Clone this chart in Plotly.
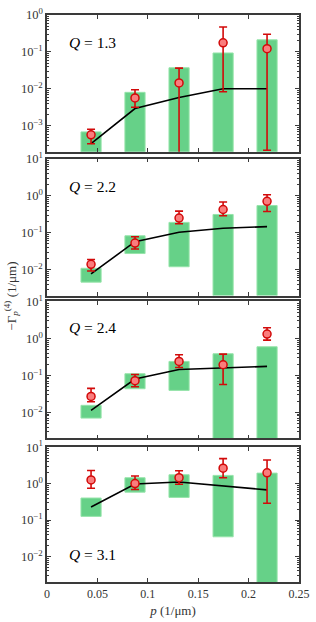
import plotly.graph_objects as go
from plotly.subplots import make_subplots

# ---------------- data ----------------
p = [0.0437, 0.0873, 0.131, 0.1747, 0.2183]
q_labels = ["1.3", "2.2", "2.4", "3.1"]

# green floating bars (low, high); 1e-5 = extends below the axis
bar_low_1 = [1e-5, 1e-5, 1e-5, 1e-5, 1e-5]
bar_high_1 = [6.9e-4, 8.1e-3, 0.0374, 0.094, 0.213]
bar_low_2 = [4.6e-3, 0.0273, 0.012, 1e-5, 1e-5]
bar_high_2 = [0.0109, 0.0824, 0.19, 0.311, 0.541]
bar_low_3 = [7.0e-3, 0.0436, 0.0393, 1e-5, 1e-5]
bar_high_3 = [0.0155, 0.111, 0.239, 0.385, 0.595]
bar_low_4 = [0.126, 0.583, 0.418, 0.0347, 1e-5]
bar_high_4 = [0.402, 1.45, 1.75, 1.68, 1.94]

# red markers with asymmetric error bars
val_1 = [5.75e-4, 5.7e-3, 0.0146, 0.177, 0.123]
hi_1 = [8.15e-4, 9.5e-3, 0.0366, 0.474, 0.302]
lo_1 = [3.3e-4, 3.2e-3, 1e-5, 8.4e-3, 2.2e-4]
val_2 = [0.0139, 0.0525, 0.249, 0.424, 0.706]
hi_2 = [0.0189, 0.0774, 0.382, 0.678, 1.06]
lo_2 = [9.2e-3, 0.0363, 0.175, 0.287, 0.374]
val_3 = [0.027, 0.0718, 0.239, 0.194, 1.31]
hi_3 = [0.0445, 0.106, 0.362, 0.377, 1.94]
lo_3 = [0.0194, 0.0494, 0.164, 0.057, 0.90]
val_4 = [1.26, 1.0, 1.45, 2.65, 1.98]
hi_4 = [2.29, 1.61, 2.25, 4.84, 4.45]
lo_4 = [0.748, 0.688, 0.96, 1.45, 0.288]

# black model line
line_1 = [3.3e-4, 2.96e-3, 5.9e-3, 0.0101, 0.0101]
line_2 = [7.66e-3, 0.057, 0.103, 0.132, 0.146]
line_3 = [0.0113, 0.0796, 0.145, 0.161, 0.175]
line_4 = [0.229, 0.98, 1.11, 0.88, 0.674]

y_tick_exps_1 = [-3, -2, -1, 0]
y_tick_exps_other = [-2, -1, 0, 1]

# ---------------- styling ----------------
BAR_C = "rgb(102,209,136)"
BAR_EDGE = "rgb(150,228,170)"
RED = "rgb(210,10,10)"
MFILL = "rgb(250,125,125)"
AXC = "#3a3a3a"
FONT = "Liberation Serif, DejaVu Serif, serif"

panels = [
    (bar_low_1, bar_high_1, val_1, hi_1, lo_1, line_1),
    (bar_low_2, bar_high_2, val_2, hi_2, lo_2, line_2),
    (bar_low_3, bar_high_3, val_3, hi_3, lo_3, line_3),
    (bar_low_4, bar_high_4, val_4, hi_4, lo_4, line_4),
]

fig = make_subplots(rows=4, cols=1, shared_xaxes=True, vertical_spacing=0.01)

for i, (bl, bh, v, hi, lo, ln) in enumerate(panels, start=1):
    fig.add_trace(go.Bar(
        x=p, y=[h - l for h, l in zip(bh, bl)], base=bl, width=0.02,
        marker=dict(color=BAR_C, line=dict(color=BAR_EDGE, width=1)),
        showlegend=False, hoverinfo="skip"), row=i, col=1)
    fig.add_trace(go.Scatter(
        x=p, y=ln, mode="lines", line=dict(color="black", width=1.6),
        showlegend=False), row=i, col=1)
    fig.add_trace(go.Scatter(
        x=p, y=v, mode="markers",
        marker=dict(symbol="circle", size=8, color=MFILL, line=dict(color=RED, width=1.5)),
        error_y=dict(type="data", symmetric=False,
                     array=[h - x for h, x in zip(hi, v)],
                     arrayminus=[x - l for x, l in zip(v, lo)],
                     color=RED, thickness=1.6, width=4),
        showlegend=False), row=i, col=1)

domains = [[0.7587, 1.0], [0.5052, 0.7465], [0.2535, 0.4948], [0.0, 0.2378]]
ranges = [[-3.7, 0], [-2.7, 1], [-2.7, 1], [-2.7, 1]]

for i in range(1, 5):
    exps = y_tick_exps_1 if i == 1 else y_tick_exps_other
    fig.update_yaxes(
        type="log", range=ranges[i - 1], domain=domains[i - 1],
        tickmode="array", tickvals=[10 ** e for e in exps],
        ticktext=["10<sup>%s</sup>" % (str(e).replace("-", "−")) for e in exps],
        ticks="inside", ticklen=4, tickwidth=1, tickcolor=AXC,
        minor=dict(ticks="inside", ticklen=2, tickcolor=AXC, dtick="D1", showgrid=False),
        showline=True, linecolor=AXC, linewidth=1.5, mirror="allticks",
        showgrid=False, zeroline=False,
        tickfont=dict(family=FONT, size=12.5, color="#333"),
        row=i, col=1)
    fig.update_xaxes(
        range=[0, 0.25], dtick=0.05, tick0=0,
        ticks="inside", ticklen=4, tickwidth=1, tickcolor=AXC,
        showline=True, linecolor=AXC, linewidth=1.5, mirror="allticks",
        showgrid=False, zeroline=False, showticklabels=(i == 4),
        tickfont=dict(family=FONT, size=12, color="#333"),
        row=i, col=1)

fig.update_xaxes(title=dict(text="<i>p</i> (1/μm)", font=dict(family=FONT, size=13, color="#333"), standoff=6), row=4, col=1)

q_pos = [(1, -0.733), (2, 0.24), (3, 0.30), (4, -1.95)]
for (row, ylog), q in zip(q_pos, q_labels):
    fig.add_annotation(
        x=0.0195, y=ylog, xref="x%s" % ("" if row == 1 else row),
        yref="y%s" % ("" if row == 1 else row),
        text="<i>Q</i> = %s" % q, showarrow=False, xanchor="left", yanchor="middle",
        font=dict(family=FONT, size=15.5, color="black"))

fig.add_annotation(
    x=-0.143, y=0.505, xref="paper", yref="paper", textangle=-90,
    text="−Γ<sub><i>p</i></sub><sup>(4)</sup> (1/μm)", showarrow=False,
    xanchor="center", yanchor="middle",
    font=dict(family=FONT, size=13, color="#333"))

fig.update_layout(
    width=316, height=622, margin=dict(l=47, r=12, t=6, b=40),
    plot_bgcolor="white", paper_bgcolor="white", barmode="overlay",
    font=dict(family=FONT),
)

fig.write_html("out.html", config={"displayModeBar": False},
               post_script="document.body.style.margin='0';document.body.style.overflow='hidden';")
